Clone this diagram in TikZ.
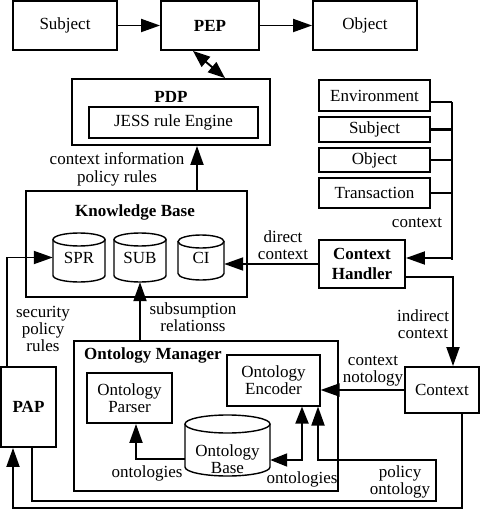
\documentclass[tikz,border=0pt]{standalone}
\usepackage{fontspec}
\setmainfont{Liberation Serif}
\usetikzlibrary{arrows.meta,calc}
\begin{document}
\begin{tikzpicture}[x=1pt,y=1pt,
  font=\fontsize{17}{17}\selectfont,
  bold/.style={font=\fontsize{17}{17}\selectfont\bfseries},
  box/.style={draw, line width=1.9pt, inner sep=0pt, align=center},
  thinbox/.style={draw, line width=1.1pt, inner sep=0pt, align=center},
  ghost/.style={inner sep=0pt, align=center},
  lbl/.style={inner sep=0pt, align=center},
  conn/.style={line width=1.9pt},
  arr/.style={line width=1.9pt, -{Triangle[length=19pt,width=13pt]}},
  darr/.style={line width=1.9pt, {Triangle[length=17pt,width=13pt]}-{Triangle[length=17pt,width=13pt]}},
  cylline/.style={line width=1.4pt},
  bus/.style={line width=1.1pt}]
\useasboundingbox (0,0) rectangle (480,-510);

% top row
\node[box, minimum width=104, minimum height=49] (subj) at (65,-25.5) {Subject};
\node[box, bold, minimum width=98, minimum height=49] (pep) at (210,-25.5) {PEP};
\node[box, minimum width=104, minimum height=49] (obj) at (365,-25.5) {Object};
\draw[arr] (subj) -- (pep);
\draw[arr] (pep) -- (obj);

% PDP
\node[box, minimum width=198, minimum height=66] (pdp) at (171,-112) {};
\node[lbl, bold] (pdplbl) at (171,-97) {PDP};
\node[box, line width=1.5pt, minimum width=169, minimum height=31] (jess) at (173.5,-122.5) {JESS rule Engine};
\draw[darr] ($(pep.south)+(-17,0)$) -- ($(pdp.north)+(54,0)$);

% context sources
\node[box, minimum width=111, minimum height=31] (env) at (374.5,-95.5) {Environment};
\node[box, minimum width=111, minimum height=25] (subjr) at (374.5,-129.5) {Subject};
\node[box, minimum width=111, minimum height=24] (objr) at (374.5,-160) {Object};
\node[box, minimum width=111, minimum height=30] (trans) at (374.5,-193) {Transaction};
\coordinate (bt) at (452,-102);
\coordinate (bb) at (452,-260);
\draw[bus] (bt) -- (bb);
\draw[bus] ($(env.east)+(0,-6.5)$) -- (bt);
\draw[line width=2.2pt] (subjr.east) -- (subjr.east -| bt);
\draw[bus] (objr.east) -- (objr.east -| bt);
\draw[bus] (trans.east) -- (trans.east -| bt);
\node[lbl] (lctx) at (417,-223) {context};

% Context Handler
\node[box, bold, minimum width=86, minimum height=48] (ch) at (362,-264) {Context\\[3pt]Handler};
\coordinate (chin) at (452,-258);
\draw[arr] (chin) -- (chin -| ch.east);

% Knowledge base
\node[box, minimum width=221, minimum height=106] (kb) at (136.5,-244) {};
\node[lbl, bold] (kblbl) at (135,-212) {Knowledge\hspace{4.5pt}Base};
\draw[arr] ($(kb.north)+(60.5,0)$) -- ($(pdp.south)+(26,0)$);
\node[lbl] (lci) at (117,-169.5) {context information\\[1pt]policy rules};

% cylinders
\draw[cylline] (53,-239.5) -- (53,-275.5) arc[start angle=180, end angle=360, x radius=26, y radius=6.5] -- (105,-239.5);
\draw[cylline] (79,-239.5) ellipse[x radius=26, y radius=6.5];
\node[ghost, minimum width=52, minimum height=49] (spr) at (79,-257.5) {SPR};
\draw[cylline] (114,-239.5) -- (114,-275.5) arc[start angle=180, end angle=360, x radius=26, y radius=6.5] -- (166,-239.5);
\draw[cylline] (140,-239.5) ellipse[x radius=26, y radius=6.5];
\node[ghost, minimum width=52, minimum height=49] (sub) at (140,-257.5) {SUB};
\draw[cylline] (178,-241.5) -- (178,-273.5) arc[start angle=180, end angle=360, x radius=23, y radius=6.5] -- (224,-241.5);
\draw[cylline] (201,-241.5) ellipse[x radius=23, y radius=6.5];
\node[ghost, minimum width=46, minimum height=45] (ci) at (201,-257.5) {CI};

% Context handler -> CI
\draw[arr] (ch.west) -- (ch.west -| ci.east);
\node[lbl] (ldc) at (283,-245.5) {direct\\context};

% Context
\node[box, minimum width=74, minimum height=46] (ctx) at (442,-390) {Context};
\draw[arr] ($(ch.east)+(0,-13)$) -| ($(ctx.north)+(11,0)$);
\node[lbl] (lic) at (423,-324) {indirect\\context};

% PAP
\node[box, bold, minimum width=55, minimum height=80] (pap) at (28.5,-407) {PAP};
\draw[arr] ($(pap.north)+(-21.5,0)$) |- (spr.west);
\node[lbl] (lsp) at (43,-329) {security\\policy\\rules};

% Ontology manager
\node[box, minimum width=264, minimum height=150] (om) at (206,-416) {};
\node[lbl, bold, anchor=west] (omlbl) at (84,-355) {Ontology Manager};
\draw[arr] (om.north -| sub.south) -- (sub.south);
\node[lbl] (lsr) at (193,-317.5) {subsumption\\relationss};

\node[box, minimum width=85, minimum height=50] (parser) at (129.5,-398) {Ontology\\Parser};
\node[thinbox, minimum width=93, minimum height=51] (enc) at (273.5,-380.5) {Ontology\\Encoder};

% Ontology base cylinder
\draw[cylline] (185,-424) -- (185,-467) arc[start angle=180, end angle=360, x radius=42.5, y radius=9] -- (270,-424);
\draw[cylline] (227.5,-424) ellipse[x radius=42.5, y radius=9];
\node[ghost, minimum width=85, minimum height=61] (ob) at (227.5,-445.5) {};
\node[lbl] (oblbl) at (227.5,-459) {Ontology\\Base};

\coordinate (obl) at (185,-459);
\draw[arr] (obl) -| ($(parser.south)+(6.5,0)$);
\node[lbl] (lon1) at (147,-473) {ontologies};

\coordinate (eo) at (302,-460);
\draw[darr] ($(enc.south)+(28.5,0)$) |- (ob.east |- eo);
\node[lbl] (lon2) at (302,-479) {ontologies};

% Context -> Encoder
\draw[arr] (ctx.west) -- (ctx.west -| enc.east);
\node[lbl] (lcn) at (373,-371.5) {context\\notology};

% PAP -> Encoder (policy ontology)
\coordinate (p1) at (436,-501);
\coordinate (p2) at (318,-460);
\draw[arr] ($(pap.south)+(3.5,0)$) |- (p1) |- (p2) -- ($(enc.south)+(44.5,0)$);
\node[lbl] (lpo) at (400,-481.5) {policy\\ontology};

% Context -> PAP
\coordinate (q1) at (13,-508);
\draw[arr] ($(ctx.south)+(20,0)$) |- (q1) -- ($(pap.south)+(-15.5,0)$);
\end{tikzpicture}
\end{document}
